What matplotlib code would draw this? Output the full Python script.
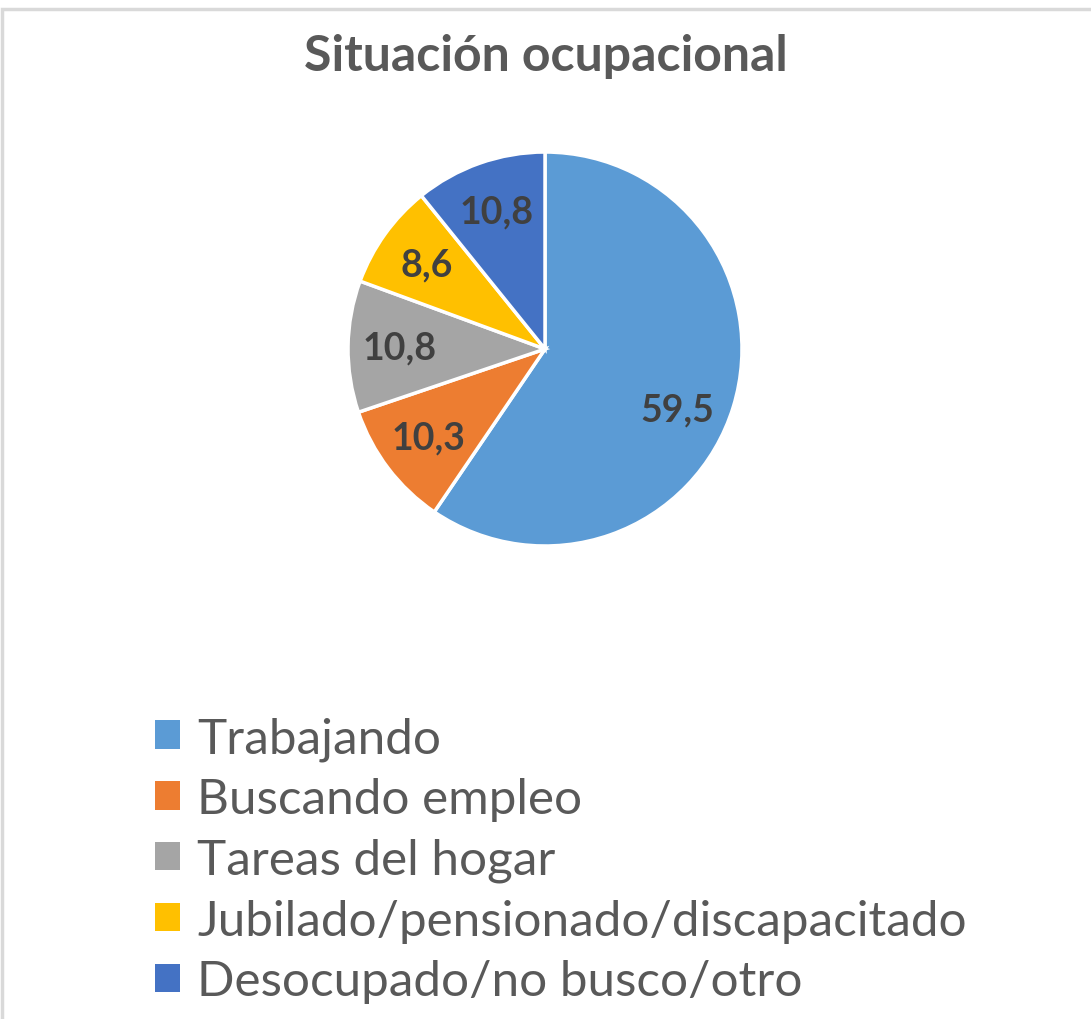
import numpy as np
import matplotlib.pyplot as plt
from matplotlib.patches import Rectangle

# Data
categories = ['Trabajando', 'Buscando empleo', 'Tareas del hogar',
              'Jubilado/pensionado/discapacitado', 'Desocupado/no busco/otro']
values = [59.5, 10.3, 10.8, 8.6, 10.8]
colors = ['#5B9BD5', '#ED7D31', '#A5A5A5', '#FFC000', '#4472C4']
title = 'Situación ocupacional'

plt.rcParams['font.family'] = ['Lato', 'DejaVu Sans']

fig = plt.figure(figsize=(10.91, 10.20), dpi=100)
fig.patch.set_facecolor('white')

# light chart border (top and left visible)
fig.add_artist(Rectangle((0.002, -0.01), 1.2, 1.0, transform=fig.transFigure,
                         fill=False, edgecolor='#D9D9D9', linewidth=2.5))

ax = fig.add_axes([0.3190, 0.4637, 0.3611, 0.3863])
wedges, texts, autotexts = ax.pie(
    values, colors=colors, startangle=90, counterclock=False,
    autopct=lambda p: f'{p:.1f}'.replace('.', ','), pctdistance=0.74,
    wedgeprops=dict(edgecolor='white', linewidth=2.5))
for t in autotexts:
    t.set_fontsize(27)
    t.set_fontweight('bold')
    t.set_color('#404040')

# the big slice's label sits a bit lower than the bisector
x, y = autotexts[0].get_position()
a = np.deg2rad(-7.5)
autotexts[0].set_position((x * np.cos(a) - y * np.sin(a),
                           x * np.sin(a) + y * np.cos(a)))

ax.set_xlim(-1, 1)
ax.set_ylim(-1, 1)
ax.set_aspect('equal')

fig.text(0.5, 0.945, title, ha='center', va='center', fontsize=36,
         fontweight='bold', color='#595959')

leg = fig.legend(wedges, categories, loc='upper left',
                 bbox_to_anchor=(0.142, 0.297), frameon=False,
                 fontsize=35.6, labelcolor='#595959', handlelength=0.5,
                 handleheight=0.5, handletextpad=0.36, labelspacing=0.335,
                 borderaxespad=0, borderpad=0)
for h in leg.legend_handles:
    h.set_edgecolor('none')

fig.savefig('out.png', dpi=100, facecolor='white')
